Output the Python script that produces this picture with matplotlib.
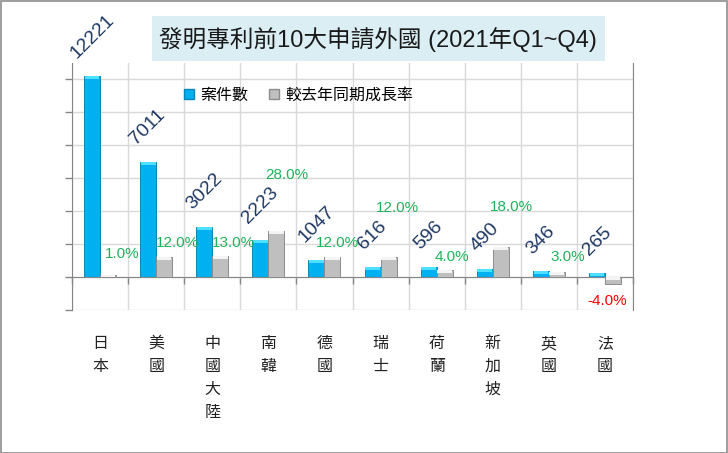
import matplotlib
matplotlib.use("Agg")
import matplotlib.pyplot as plt
from matplotlib.lines import Line2D
from matplotlib.patches import Rectangle
import numpy as np

plt.rcParams['font.family'] = ['Liberation Sans', 'Noto Sans CJK TC', 'DejaVu Sans']

# ---- data ----
categories = ['日本', '美國', '中國大陸', '南韓', '德國', '瑞士', '荷蘭', '新加坡', '英國', '法國']
counts = [12221, 7011, 3022, 2223, 1047, 616, 596, 490, 346, 265]
growth = [1.0, 12.0, 13.0, 28.0, 12.0, 12.0, 4.0, 18.0, 3.0, -4.0]
title = '發明專利前10大申請外國 (2021年Q1~Q4)'
legend_labels = ['案件數', '較去年同期成長率']

# ---- layout (label offsets in pixels, manually placed in the reference) ----
pct_dx = [14, 13, 13, 10, 5, 9, 7, 11, 11, -6]
pct_dy = [21, 14, 13, 56, 14, 49, 13, 40, 15, -17]

W, H = 728, 453
fig = plt.figure(figsize=(W / 100, H / 100), dpi=100)
fig.patch.set_facecolor('white')

L, R, T, B = 72, 633, 63, 310
ax1 = fig.add_axes([L / W, 1 - B / H, (R - L) / W, (B - T) / H])
ax2 = ax1.twinx()

x = np.arange(len(categories))
w = 0.285

blue = '#00B0F0'
gray = '#BFBFBF'

ax1.set_xlim(-0.5, len(categories) - 0.5)
ax1.set_ylim(-2000, 13000)
ax2.set_ylim(-20, 130)

ax1.set_zorder(1)
ax2.set_zorder(2)
ax2.patch.set_visible(False)
ax1.patch.set_visible(False)

# bars
ax1.bar(x - w / 2, counts, width=w, color=blue, edgecolor='#0A86B8', linewidth=0.7, zorder=3)
cap1 = 180
ax1.bar(x - w / 2, [cap1] * len(counts), bottom=np.array(counts) - cap1, width=w * 0.92,
        color='#4FDFFF', linewidth=0, zorder=4)
ax2.bar(x + w / 2, growth, width=w, color=gray, edgecolor='#8C8C8C', linewidth=0.7, zorder=3)
g = np.array(growth)
cap2 = np.minimum(1.8, np.abs(g))
gtop = np.maximum(g, 0)
ax2.bar(x + w / 2, cap2, bottom=gtop - cap2, width=w * 0.92, color='#F4F4F4', linewidth=0, zorder=4)

# grid
ax1.set_yticks(np.arange(-2000, 13000, 2000))
ax1.set_xticks(x)
ax1.set_xticks(np.arange(-0.5, len(categories), 1), minor=True)
ax1.grid(which='major', axis='y', color='#D9D9D9', linewidth=1.0, zorder=0)
ax1.grid(which='minor', axis='x', color='#D9D9D9', linewidth=1.0, zorder=0)
ax1.set_yticklabels([])
ax1.set_xticklabels([])
ax1.tick_params(axis='y', direction='out', length=5, color='#868686', width=1)
ax1.tick_params(axis='x', which='major', length=0)
ax1.tick_params(axis='x', which='minor', direction='out', length=5, color='#868686', width=1)

for s in ['top', 'right']:
    ax1.spines[s].set_visible(False)
ax1.spines['left'].set_color('#868686')
ax1.spines['bottom'].set_position(('data', 0))
ax1.spines['bottom'].set_color('#868686')
ax1.spines['bottom'].set_zorder(5)

ax2.set_yticks([])
for s in ['top', 'left', 'bottom']:
    ax2.spines[s].set_visible(False)
ax2.spines['right'].set_color('#868686')

# count labels
for xi, c in zip(x, counts):
    ax1.annotate(str(c), xy=(xi - w / 2, c), xytext=(0, 14), textcoords='offset pixels',
                 ha='center', va='bottom', rotation=45, fontsize=14, color='#1F3864', zorder=6)

# growth labels
for xi, gv, dx, dy in zip(x, growth, pct_dx, pct_dy):
    col = '#FF0000' if gv < 0 else '#1DB35A'
    ax2.annotate(f'{gv:.1f}%', xy=(xi + w / 2, gv), xytext=(dx, dy), textcoords='offset pixels',
                 ha='center', va='center', fontsize=11, color=col, zorder=6)

# category labels (vertical)
trans = ax1.get_xaxis_transform()
for xi, name in zip(x, categories):
    ax1.annotate('\n'.join(name), xy=(xi, 0), xycoords=trans, xytext=(0, -25),
                 textcoords='offset pixels', ha='center', va='top', fontsize=11.5,
                 color='#222222', linespacing=1.45, family=['Noto Sans CJK TC'])

# legend
handles = [Line2D([], [], marker='s', linestyle='none', markersize=7, markerfacecolor=blue,
                  markeredgecolor='#0A86B8'),
           Line2D([], [], marker='s', linestyle='none', markersize=7, markerfacecolor=gray,
                  markeredgecolor='#8C8C8C')]
fig.legend(handles, legend_labels, loc='center left', bbox_to_anchor=(183 / W, 1 - 95 / H),
           ncol=2, frameon=False, fontsize=11.5, handlelength=0.8, handletextpad=0.3,
           columnspacing=1.2, borderaxespad=0, borderpad=0)

# title box
fig.patches.append(Rectangle((152 / W, 1 - 61 / H), (605 - 152) / W, 45 / H,
                             transform=fig.transFigure, facecolor='#DAEEF3', edgecolor='none'))
fig.text(378 / W, 1 - 40 / H, title, ha='center', va='center', fontsize=17, color='#1A1A1A')

# outer border
fig.patches.append(Rectangle((0.5 / W, 0.5 / H), (W - 1.5) / W, (H - 1.5) / H,
                             transform=fig.transFigure, facecolor='none', edgecolor='#8C8C8C',
                             linewidth=1.2))

fig.savefig('out.png', dpi=100)
